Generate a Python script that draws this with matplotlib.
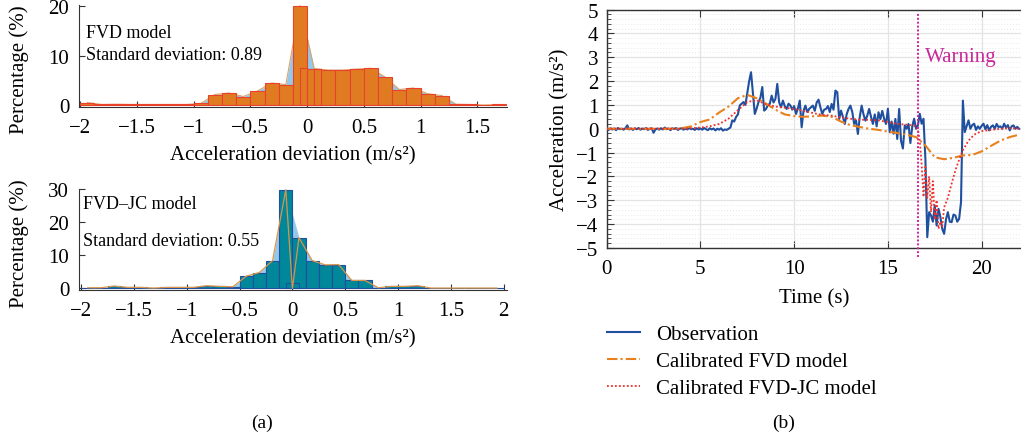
import numpy as np
import matplotlib
matplotlib.use('Agg')
import matplotlib.pyplot as plt
from matplotlib.ticker import MultipleLocator
from matplotlib.lines import Line2D

plt.rcParams['font.family'] = ['Liberation Serif', 'DejaVu Serif']

# histogram (a) - FVD model, bins of 0.125 from -2
fvd_left = np.arange(-2.0, 1.7, 0.125)
fvd_heights = [0.6, 0.2, 0.25, 0.2, 0.2, 0.2, 0.2, 0.2, 0.4, 2.2,
               2.5, 1.8, 2.9, 4.5, 4.2, 20.0, 7.4, 7.1, 7.1, 7.3,
               7.45, 5.7, 3.2, 3.5, 2.35, 2.0, 0.25, 0.2, 0.1, 0.2]
# the narrow overlapping bars near zero
fvd_extra_left = [-0.0625, 0.0, 0.0625]
fvd_extra_heights = [7.5, 7.4, 7.3]

# histogram (a) - FVD-JC model
jc_left = np.arange(-2.0, 1.95, 0.125)
jc_heights = [0.2, 0.2, 0.7, 0.3, 0.3, 0.1, 0.3, 0.3, 0.3, 0.8,
              0.6, 0.5, 3.7, 4.8, 8.4, 29.8, 15.3, 8.4, 7.1, 7.2,
              2.4, 2.4, 0.2, 0.6, 0.6, 0.8, 0.1, 0.1, 0.1, 0.1, 0.1, 0.1]
jc_dip_x = 0.0
jc_dip_y = 0.0
jc_box_left = -0.0625
jc_box_height = 1.5

# (b) time series
t_obs = np.round(np.arange(0, 22.01, 0.1), 1)
obs = [0.0, -0.05, 0.02, -0.03, 0.01, -0.06, 0.03, -0.02, 0.0, -0.04,
       0.02, 0.14, -0.03, 0.01, -0.05, 0.02, -0.02, 0.03, -0.04, 0.01,
       -0.02, 0.03, -0.05, 0.0, 0.02, -0.17, -0.03, 0.01, -0.04, 0.02,
       -0.03, 0.05, -0.02, 0.01, -0.06, 0.02, -0.01, 0.03, -0.05, 0.0,
       0.02, -0.04, 0.01, -0.03, 0.04, -0.02, 0.0, -0.05, 0.02, -0.03,
       0.01, -0.04, 0.03, -0.02, -0.06, 0.02, -0.03, 0.01, -0.07, 0.0,
       -0.04, 0.02, -0.08, -0.03, -0.05, 0.0, 0.05, 0.35, 0.3, 0.49,
       0.6, 0.98, 1.05, 1.12, 1.0, 1.5, 2.0, 2.37, 1.5, 0.62,
       0.85, 1.12, 1.3, 1.75, 0.76, 0.83, 1.0, 1.04, 1.39, 1.1,
       1.25, 1.88, 1.11, 0.9, 1.18, 0.95, 0.83, 1.05, 0.97, 0.8,
       0.95, 0.62, 0.85, 1.18, 0.06, 0.75, 0.97, 0.7, 0.83, 0.9,
       0.97, 0.75, 1.1, 1.22, 0.9, 0.62, 0.8, 0.83, 0.95, 0.7,
       1.04, 0.8, 1.6, 1.53, 0.41, 0.76, 0.5, 0.2, 0.6, 0.83,
       0.97, 0.7, 0.2, 0.35, -0.22, 0.5, 0.97, 0.6, 0.34, 0.55,
       0.83, 0.5, 0.2, 0.6, 0.1, 0.69, 0.4, 0.75, 0.41, 0.2,
       0.84, -0.15, 0.3, -0.21, 0.41, -0.43, 0.83, -0.5, -0.83, 0.14,
       0.0, 0.2, -0.6, 0.1, 0.42, 0.0, 0.14, 0.63, 0.21, 0.42,
       -1.26, -4.55, -3.5, -3.64, -3.9, -3.22, -4.06, -3.36, -3.7, -4.2,
       -4.41, -3.8, -3.5, -3.9, -3.92, -3.6, -3.64, -3.9, -3.78, -3.08,
       1.18, -0.14, 0.1, 0.35, 0.0, 0.15, 0.21, -0.05, 0.1, 0.0,
       0.12, 0.21, -0.02, 0.15, -0.07, 0.08, 0.14, 0.0, 0.2, 0.07,
       0.1, 0.0, 0.21, 0.05, 0.15, -0.07, 0.1, 0.14, 0.0, 0.08,
       0.0]

t_fvd = np.arange(0, 22.01, 0.5)
fvd = [0, 0, 0, 0, 0, 0, 0, 0,
       0.02, 0.1, 0.28, 0.39, 0.68, 0.93, 1.28, 1.42, 1.28, 1.05,
       0.8, 0.6, 0.53, 0.5, 0.52, 0.55, 0.5, 0.3, 0.15, 0.07,
       0.0, -0.05, -0.12, -0.18, -0.25, -0.35, -0.7, -1.2, -1.28, -1.22,
       -1.12, -1.1, -0.95, -0.72, -0.5, -0.35, -0.25]

t_jc = [0, 1, 2, 3, 4, 4.5, 5, 5.5, 6, 6.5, 7, 7.5, 8, 8.5, 9, 9.5, 10,
        10.5, 11, 11.5, 12, 12.5, 13, 13.5, 14, 14.5, 15, 15.5, 16, 16.4,
        16.6, 16.7, 16.8, 16.9, 17.0, 17.1, 17.2, 17.3, 17.4, 17.5, 17.6,
        17.7, 17.8, 17.9, 18.0, 18.2, 18.4, 18.6, 18.8, 19.0, 19.3, 19.6,
        20.0, 20.5, 21, 21.5, 22]
jc = [0, 0, 0, 0, 0, 0.02, 0.05, 0.1, 0.2, 0.42, 0.78, 1.12, 1.2, 1.02,
      0.93, 0.88, 0.83, 0.75, 0.66, 0.58, 0.55, 0.47, 0.42, 0.38, 0.37,
      0.35, 0.28, 0.2, 0.17, 0.13, 0.0, -0.5, -1.5, -2.86, -1.6, -2.9,
      -2.0, -3.5, -2.2, -3.8, -3.0, -4.2, -3.9, -4.1, -3.3, -2.9, -2.3,
      -1.75, -1.3, -0.9, -0.5, -0.25, -0.1, -0.05, 0.0, 0.02, 0.0]

warning_t = 16.62

fig = plt.figure(figsize=(10.21, 4.39), dpi=100)

FS = 15
spine_c = '#333333'


def style_hist(ax, label_y):
    for s in ['top', 'right']:
        ax.spines[s].set_visible(False)
    for s in ['left', 'bottom']:
        ax.spines[s].set_color(spine_c)
    ax.tick_params(direction='in', labelsize=FS, length=4, color=spine_c)
    ax.tick_params(axis='x', pad=8)
    ax.tick_params(axis='y', pad=7)
    ax.set_ylabel('Percentage (%)', fontsize=FS)
    ax.yaxis.set_label_coords(-0.117, label_y)
    ax.set_xlabel('Acceleration deviation (m/s²)', fontsize=FS, labelpad=6)


# ---- top histogram
ax1 = fig.add_axes([0.0774, 0.754, 0.419, 0.232])
w = 0.125
c1 = fvd_left + w / 2
ax1.fill_between(c1, fvd_heights, color='#93c9ea', lw=0, zorder=1)
ax1.plot(c1, fvd_heights, color='#dba36a', lw=0.8, zorder=1)
ax1.bar(fvd_left, fvd_heights, width=w, align='edge', color='#e07b22',
        edgecolor='#e8412c', lw=0.8, zorder=2)
ax1.bar(fvd_extra_left, fvd_extra_heights, width=0.0625, align='edge',
        color='#e07b22', edgecolor='#e8412c', lw=0.8, zorder=3)
ax1.set_xlim(-2.01, 1.76)
ax1.set_ylim(-0.3, 20.1)
ax1.set_xticks([-2, -1.5, -1, -0.5, 0, 0.5, 1, 1.5])
ax1.set_xticklabels(['−2', '−1.5', '−1', '−0.5', '0', '0.5', '1', '1.5'])
ax1.set_yticks([0, 10, 20])
style_hist(ax1, 0.38)
ax1.text(-1.95, 14.6, 'FVD model', fontsize=13, va='center')
ax1.text(-1.95, 10.2, 'Standard deviation: 0.89', fontsize=13, va='center')

# ---- bottom histogram
ax2 = fig.add_axes([0.0774, 0.337, 0.419, 0.23])
c2 = list(jc_left + w / 2)
h2 = list(jc_heights)
k = 16
px = c2[:k] + [jc_dip_x] + c2[k:]
py = h2[:k] + [jc_dip_y] + h2[k:]
ax2.fill_between(c2, h2, color='#93c9ea', lw=0, zorder=1)
ax2.bar(jc_left, jc_heights, width=w, align='edge', color='#00879a',
        edgecolor='#1f4f9e', lw=0.8, zorder=2)
ax2.bar([jc_box_left], [jc_box_height], width=0.125, align='edge',
        color='none', edgecolor='#1f4f9e', lw=0.8, zorder=3)
ax2.plot(px, py, color='#d9954a', lw=0.9, zorder=4)
ax2.set_xlim(-2.02, 2.03)
ax2.set_ylim(-0.5, 30)
ax2.set_xticks([-2, -1.5, -1, -0.5, 0, 0.5, 1, 1.5, 2])
ax2.set_xticklabels(['−2', '−1.5', '−1', '−0.5', '0', '0.5', '1', '1.5', '2'])
ax2.set_yticks([0, 10, 20, 30])
style_hist(ax2, 0.47)
ax2.text(-1.98, 25.5, 'FVD–JC model', fontsize=13, va='center')
ax2.text(-1.98, 14.4, 'Standard deviation: 0.55', fontsize=13, va='center')

fig.text(0.257, 0.036, '(a)', fontsize=14, ha='center', va='center')

# ---- time series (b)
ax3 = fig.add_axes([0.5942, 0.433, 0.4058, 0.543])
ax3.set_xlim(0, 22.1)
ax3.set_ylim(-5, 5)
ax3.xaxis.set_major_locator(MultipleLocator(5))
ax3.yaxis.set_major_locator(MultipleLocator(1))
ax3.yaxis.set_minor_locator(MultipleLocator(0.2))
ax3.grid(which='major', color='#e3e3e3', lw=0.9)
ax3.grid(which='minor', axis='y', color='#e8e8e8', lw=0.7, ls=(0, (1, 2)))
ax3.set_axisbelow(True)
ax3.spines['right'].set_visible(False)
for s in ['top', 'left', 'bottom']:
    ax3.spines[s].set_color(spine_c)
    ax3.spines[s].set_linewidth(1.0)
ax3.tick_params(which='both', direction='in', top=True, labelsize=FS,
                color=spine_c)
ax3.tick_params(which='major', length=5)
ax3.tick_params(axis='x', which='major', pad=8)
ax3.tick_params(axis='y', which='major', pad=6)
ax3.tick_params(which='minor', length=3)
ax3.set_yticks(range(-5, 6))
ax3.set_yticklabels([str(v).replace('-', '−') for v in range(-5, 6)])
ax3.set_xlabel('Time (s)', fontsize=FS, labelpad=7)
ax3.set_ylabel('Acceleration (m/s²)', fontsize=FS, labelpad=5)

ax3.plot(t_obs, obs, color='#1f4f9e', lw=1.5, zorder=3)
ax3.plot(t_fvd, fvd, color='#e8801e', lw=1.5, ls=(0, (5, 1.5, 1, 1.5)), zorder=4)
ax3.plot(t_jc, jc, color='#f0302a', lw=1.3, ls=(0, (1, 1.2)), zorder=5)
ax3.plot([warning_t, warning_t], [-5.4, 4.9], color='#d4209a', lw=1.4,
         ls=(0, (1, 1)), clip_on=False, zorder=6)
ax3.text(warning_t + 0.35, 3.05, 'Warning', color='#c8289a', fontsize=15,
         va='center')

handles = [Line2D([], [], color='#1f4f9e', lw=1.5),
           Line2D([], [], color='#e8801e', lw=1.5, ls=(0, (5, 1.5, 1, 1.5))),
           Line2D([], [], color='#f0302a', lw=1.3, ls=(0, (1, 1.2)))]
fig.legend(handles, ['Observation', 'Calibrated FVD model', 'Calibrated FVD-JC model'],
           loc='upper left', bbox_to_anchor=(0.5945, 0.258), frameon=False,
           fontsize=15, handlelength=1.6, handletextpad=0.75, labelspacing=0.36,
           borderpad=0, borderaxespad=0)

fig.text(0.767, 0.036, '(b)', fontsize=14, ha='center', va='center')

fig.savefig('out.png', dpi=100)
